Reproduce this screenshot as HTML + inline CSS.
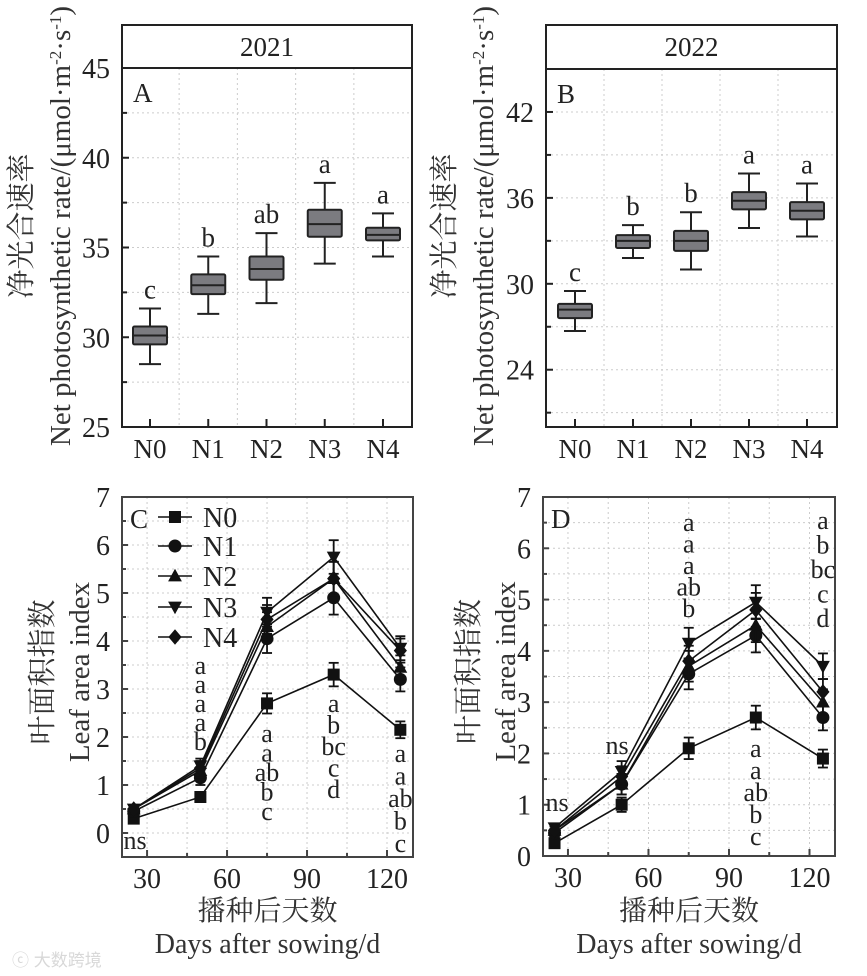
<!DOCTYPE html>
<html><head><meta charset="utf-8"><style>
html,body{margin:0;padding:0;background:#fff;}
svg{display:block;font-family:"Liberation Serif","Noto Serif CJK SC",serif;}
</style></head><body>
<svg id="fig" width="867" height="976" viewBox="0 0 867 976" xmlns="http://www.w3.org/2000/svg"></svg>
<script>
// ---------- Box plot data (A: 2021, B: 2022) ----------
const boxCats = ["N0","N1","N2","N3","N4"];
const aWhiskLo = [28.5,31.3,31.9,34.1,34.5];
const aQ1      = [29.6,32.4,33.2,35.6,35.4];
const aMed     = [30.1,32.9,33.8,36.3,35.7];
const aQ3      = [30.6,33.5,34.5,37.1,36.1];
const aWhiskHi = [31.6,34.5,35.8,38.6,36.9];
const aLetters = ["c","b","ab","a","a"];
const aTicks = [25,30,35,40,45];
const aMinor = [27.5,32.5,37.5,42.5];

const bWhiskLo = [26.7,31.8,31.0,33.9,33.3];
const bQ1      = [27.6,32.5,32.3,35.2,34.5];
const bMed     = [28.2,33.0,33.0,35.8,35.1];
const bQ3      = [28.6,33.4,33.7,36.4,35.7];
const bWhiskHi = [29.5,34.1,35.0,37.7,37.0];
const bLetters = ["c","b","b","a","a"];
const bTicks = [24,30,36,42];
const bMinor = [21,27,33,39];

// ---------- Line data (C: 2021, D: 2022) ----------
const days = [25,50,75,100,125];
const seriesNames = ["N0","N1","N2","N3","N4"];
const cN0 = [0.3,0.75,2.7,3.3,2.15];
const cN1 = [0.45,1.15,4.05,4.9,3.2];
const cN2 = [0.5,1.3,4.3,5.3,3.45];
const cN3 = [0.5,1.4,4.6,5.75,3.85];
const cN4 = [0.5,1.35,4.45,5.3,3.8];
const cErr = [0.08,0.15,0.3,0.35,0.25];
const dN0 = [0.25,1.0,2.1,2.7,1.9];
const dN1 = [0.45,1.4,3.55,4.3,2.7];
const dN2 = [0.5,1.4,3.7,4.5,3.0];
const dN3 = [0.55,1.65,4.15,4.95,3.7];
const dN4 = [0.5,1.55,3.8,4.8,3.2];
const dErr = [0.08,0.2,0.3,0.33,0.25];
const xTicks = [30,60,90,120];
const xMinor = [45,75,105];
const yTicksL = [0,1,2,3,4,5,6,7];
const yMinorL = [0.5,1.5,2.5,3.5,4.5,5.5,6.5];
const cAnnDays = [50,75,100,125];
const cAnn = [["a","a","a","a","b"],["a","a","ab","b","c"],["a","b","bc","c","d"],["a","a","ab","b","c"]];
const dAnnDays = [75,100,125];
const dAnn = [["a","a","a","ab","b"],["a","a","ab","b","c"],["a","b","bc","c","d"]];

const NS="http://www.w3.org/2000/svg";
const svg=document.getElementById('fig');
function el(tag,attrs,parent,text){const e=document.createElementNS(NS,tag);for(const k in attrs)e.setAttribute(k,attrs[k]);if(text!==undefined)e.textContent=text;(parent||svg).appendChild(e);return e;}

function boxPanel(o){
  const g=el('g',{});
  
  
  const y=v=>o.py1-(v-o.y0)/(o.y1-o.y0)*(o.py1-o.py0);
  const cx=i=>o.cx0+i*o.cstep;
  [...o.ticks,...o.minor].forEach(v=>{const l=el('line',{x1:o.fx0,x2:o.fx1,y1:y(v),y2:y(v),stroke:'#ccc','stroke-dasharray':'2,3','stroke-width':1},g);});
  for(let i=0;i<4;i++){const xx=cx(i)+o.cstep/2;const l=el('line',{x1:xx,x2:xx,y1:o.py0,y2:o.py1,stroke:'#ccc','stroke-dasharray':'2,3'},g);}
  const fr=el('rect',{x:o.fx0,y:o.hy,width:o.fx1-o.fx0,height:o.py1-o.hy,fill:'none',stroke:'#222','stroke-width':2},g);
  
  el('line',{x1:o.fx0,x2:o.fx1,y1:o.py0,y2:o.py0,stroke:'#222','stroke-width':2},g);
  const ht=el('text',{x:(o.fx0+o.fx1)/2,y:o.hy+31,'text-anchor':'middle','font-size':27,fill:'#222'},g,o.year);
  
  const pl=el('text',{x:o.fx0+11,y:o.py0+34,'font-size':27,fill:'#222'},g,o.label);
  
  o.ticks.forEach(v=>{el('line',{x1:o.fx0,x2:o.fx0+7,y1:y(v),y2:y(v),stroke:'#222','stroke-width':2},g);
    const t=el('text',{x:o.fx0-12,y:y(v)+10,'text-anchor':'end','font-size':28,fill:'#222'},g,String(v));
    });
  o.minor.forEach(v=>el('line',{x1:o.fx0,x2:o.fx0+5,y1:y(v),y2:y(v),stroke:'#222','stroke-width':2},g));
  boxCats.forEach((c,i)=>{el('line',{x1:cx(i),x2:cx(i),y1:o.py1,y2:o.py1-8,stroke:'#222','stroke-width':2},g);
    const t=el('text',{x:cx(i),y:o.py1+31,'text-anchor':'middle','font-size':27,fill:'#222'},g,c);
    });
  const bw=34,cw=22;
  boxCats.forEach((c,i)=>{
    const bg=el('g',{},g);
    
    
    const x=cx(i);
    el('line',{x1:x,x2:x,y1:y(o.lo[i]),y2:y(o.hi[i]),stroke:'#222','stroke-width':2},bg);
    el('line',{x1:x-cw/2,x2:x+cw/2,y1:y(o.lo[i]),y2:y(o.lo[i]),stroke:'#222','stroke-width':2},bg);
    el('line',{x1:x-cw/2,x2:x+cw/2,y1:y(o.hi[i]),y2:y(o.hi[i]),stroke:'#222','stroke-width':2},bg);
    el('rect',{x:x-bw/2,y:y(o.q3[i]),width:bw,height:y(o.q1[i])-y(o.q3[i]),fill:'#7b7b80',stroke:'#222','stroke-width':2,rx:1.5},bg);
    el('line',{x1:x-bw/2,x2:x+bw/2,y1:y(o.med[i]),y2:y(o.med[i]),stroke:'#222','stroke-width':2},bg);
    const t=el('text',{x:x,y:y(o.hi[i])-10,'text-anchor':'middle','font-size':27,fill:'#222'},g,o.letters[i]);
    
  });
  const yt=el('text',{transform:`translate(${o.ylx},${o.lyc}) rotate(-90)`,'text-anchor':'middle','font-size':29,fill:'#333'},svg);
  
  el('tspan',{x:0,y:0},yt,'净光合速率');
  el('tspan',{x:0,y:39},yt,'Net photosynthetic rate/(μmol·m');
  el('tspan',{'baseline-shift':'super','font-size':17},yt,'-2');
  el('tspan',{},yt,'·s');
  el('tspan',{'baseline-shift':'super','font-size':17},yt,'-1');
  el('tspan',{},yt,')');
}

function markerPath(k,x,y,s){
  if(k===0)return `M${x-s} ${y-s}h${2*s}v${2*s}h${-2*s}z`;
  if(k===2)return `M${x} ${y-s*1.2}L${x+s*1.15} ${y+s*0.9}L${x-s*1.15} ${y+s*0.9}z`;
  if(k===3)return `M${x} ${y+s*1.2}L${x+s*1.15} ${y-s*0.9}L${x-s*1.15} ${y-s*0.9}z`;
  if(k===4)return `M${x} ${y-s*1.3}L${x+s*1.1} ${y}L${x} ${y+s*1.3}L${x-s*1.1} ${y}z`;
  return null;
}
function drawMarker(k,x,y,parent){
  if(k===1){return el('circle',{cx:x,cy:y,r:6.5,fill:'#111'},parent);}
  return el('path',{d:markerPath(k,x,y,6),fill:'#111'},parent);
}

function linePanel(o){
  const g=el('g',{});
  
  
  const X=v=>o.fx0+(v-o.x0)/(o.x1-o.x0)*(o.fx1-o.fx0);
  const Y=v=>o.fy1-(v-o.y0)/(o.y1-o.y0)*(o.fy1-o.fy0);
  [...yTicksL,...yMinorL].forEach(v=>{if(Y(v)<o.fy0+1)return;const l=el('line',{x1:o.fx0,x2:o.fx1,y1:Y(v),y2:Y(v),stroke:'#ccc','stroke-dasharray':'2,3'},g);});
  [...xTicks,...xMinor].forEach(v=>{const l=el('line',{x1:X(v),x2:X(v),y1:o.fy0,y2:o.fy1,stroke:'#ccc','stroke-dasharray':'2,3'},g);});
  const fr=el('rect',{x:o.fx0,y:o.fy0,width:o.fx1-o.fx0,height:o.fy1-o.fy0,fill:'none',stroke:'#444','stroke-width':2},g);
  
  yTicksL.forEach(v=>{el('line',{x1:o.fx0,x2:o.fx0+6,y1:Y(v),y2:Y(v),stroke:'#444','stroke-width':2},g);
    const t=el('text',{x:o.fx0-12,y:Y(v)+10,'text-anchor':'end','font-size':28,fill:'#222'},g,String(v));
    });
  yMinorL.forEach(v=>el('line',{x1:o.fx0,x2:o.fx0+4,y1:Y(v),y2:Y(v),stroke:'#444','stroke-width':2},g));
  xTicks.forEach(v=>{el('line',{x1:X(v),x2:X(v),y1:o.fy1,y2:o.fy1-7,stroke:'#444','stroke-width':2},g);
    const t=el('text',{x:X(v),y:o.fy1+31,'text-anchor':'middle','font-size':28,fill:'#222'},g,String(v));
    });
  xMinor.forEach(v=>el('line',{x1:X(v),x2:X(v),y1:o.fy1,y2:o.fy1-4,stroke:'#444','stroke-width':2},g));
  const pl=el('text',{x:o.fx0+8,y:o.fy0+31,'font-size':27,fill:'#222'},g,o.label);
  
  o.series.forEach((s,k)=>{
    const sg=el('g',{},g);
    
    
    const pts=days.map((d,i)=>X(d)+','+Y(s[i])).join(' ');
    el('polyline',{points:pts,fill:'none',stroke:'#111','stroke-width':1.6},sg);
    days.forEach((d,i)=>{
      const e=o.err[i]*(k===0?0.7:1);
      const x=X(d);
      el('line',{x1:x,x2:x,y1:Y(s[i]-e),y2:Y(s[i]+e),stroke:'#111','stroke-width':1.8},sg);
      el('line',{x1:x-5,x2:x+5,y1:Y(s[i]-e),y2:Y(s[i]-e),stroke:'#111','stroke-width':1.8},sg);
      el('line',{x1:x-5,x2:x+5,y1:Y(s[i]+e),y2:Y(s[i]+e),stroke:'#111','stroke-width':1.8},sg);
      const m=drawMarker(k,x,Y(s[i]),sg);
      
      
    });
  });
  o.annDays.forEach((d,j)=>{
    o.ann[j].forEach((txt,r)=>{
      const t=el('text',{x:X(d),y:o.annY[j]+r*o.annStep[j],'text-anchor':'middle','font-size':26,fill:'#222'},g,txt);
      
    });
  });
  o.ns.forEach(n=>{const t=el('text',{x:n[0],y:n[1],'text-anchor':'middle','font-size':26,fill:'#222'},g,'ns');
    });
  const yt=el('text',{transform:`translate(${o.ylx},${(o.fy0+o.fy1)/2-5}) rotate(-90)`,'text-anchor':'middle','font-size':29,fill:'#333'},svg);
  
  el('tspan',{x:0,y:0},yt,'叶面积指数');
  el('tspan',{x:0,y:37},yt,'Leaf area index');
  const xc=(o.fx0+o.fx1)/2;
  const x1=el('text',{x:xc,y:920,'text-anchor':'middle','font-size':28,fill:'#333'},svg,'播种后天数');
  
  const x2=el('text',{x:xc,y:953,'text-anchor':'middle','font-size':28,fill:'#333'},svg,'Days after sowing/d');
  
}

boxPanel({name:'panel-a-2021',year:'2021',label:'A',fx0:122,fx1:412,hy:25,py0:68,py1:427,y0:25,y1:45,
  ticks:aTicks,minor:aMinor,cx0:150,cstep:58.25,lo:aWhiskLo,q1:aQ1,med:aMed,q3:aQ3,hi:aWhiskHi,letters:aLetters,ylx:31,lyc:226});
boxPanel({name:'panel-b-2022',year:'2022',label:'B',fx0:546,fx1:837,hy:25,py0:69,py1:427,y0:20,y1:45,
  ticks:bTicks,minor:bMinor,cx0:575,cstep:58,lo:bWhiskLo,q1:bQ1,med:bMed,q3:bQ3,hi:bWhiskHi,letters:bLetters,ylx:454,lyc:226});

linePanel({name:'panel-c-2021',label:'C',fx0:122,fx1:413,fy0:497,fy1:857,x0:20.6,x1:129.75,y0:-0.5,y1:7,
  series:[cN0,cN1,cN2,cN3,cN4],err:cErr,annDays:cAnnDays,ann:cAnn,annY:[674,742,712,762],annStep:[19,19.5,21.5,22.5],
  ns:[[135,849]],ylx:52});
linePanel({name:'panel-d-2022',label:'D',fx0:543,fx1:835,fy0:497,fy1:856,x0:20.7,x1:129.5,y0:0,y1:7,
  series:[dN0,dN1,dN2,dN3,dN4],err:dErr,annDays:dAnnDays,ann:dAnn,annY:[531,757,529],annStep:[21.5,22,24.5],
  ns:[[557,811],[617,754]],ylx:478});

const lg=el('g',{});


const legY=[517,546,576,607,637];
seriesNames.forEach((n,k)=>{
  const eg=el('g',{},lg);
  
  
  el('line',{x1:158,x2:192,y1:legY[k],y2:legY[k],stroke:'#111','stroke-width':1.6},eg);
  drawMarker(k,175,legY[k],eg);
  el('text',{x:203,y:legY[k]+10,'font-size':28,fill:'#222'},eg,n);
});

const wm=el('text',{x:12,y:966,'font-size':17,fill:'#d8d8d8','font-family':'"Liberation Sans","Noto Sans CJK SC",sans-serif'},svg,'ⓒ 大数跨境');


</script>
</body></html>
